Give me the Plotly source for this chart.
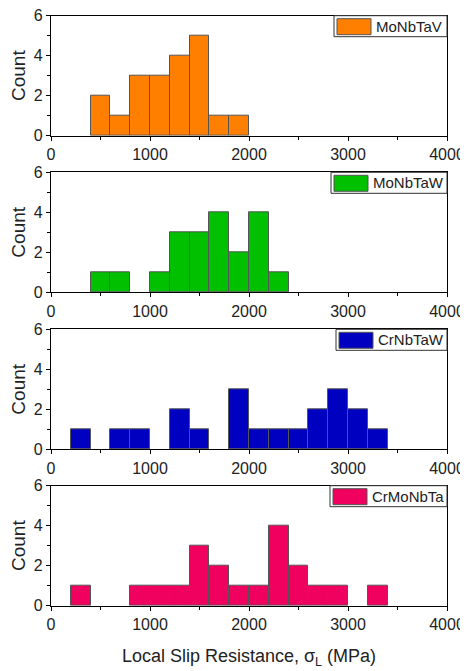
import plotly.graph_objects as go

# Bin left edges (MPa), bin width 200
bin_starts = [200, 400, 600, 800, 1000, 1200, 1400, 1600, 1800, 2000,
              2200, 2400, 2600, 2800, 3000, 3200]
bin_width = 200

names = ["MoNbTaV", "MoNbTaW", "CrNbTaW", "CrMoNbTa"]
counts_MoNbTaV = [0, 2, 1, 3, 3, 4, 5, 1, 1, 0, 0, 0, 0, 0, 0, 0]
counts_MoNbTaW = [0, 1, 1, 0, 1, 3, 3, 4, 2, 4, 1, 0, 0, 0, 0, 0]
counts_CrNbTaW = [1, 0, 1, 1, 0, 2, 1, 0, 3, 1, 1, 1, 2, 3, 2, 1]
counts_CrMoNbTa = [1, 0, 0, 1, 1, 1, 3, 2, 1, 1, 4, 2, 1, 1, 0, 1]
all_counts = [counts_MoNbTaV, counts_MoNbTaW, counts_CrNbTaW, counts_CrMoNbTa]
colors = ["#FF8000", "#00C000", "#0000C0", "#F0005F"]

x_ticks = [0, 1000, 2000, 3000, 4000]
y_ticks = [0, 2, 4, 6]

# page has an 8px body margin: the figure's origin sits at page (8, 8)
OFF = 8
W, H = 468 - OFF, 671 - OFF
mt, mb, ml, mr = 7, 65, 51 - OFF, 21
plot_h = H - mt - mb
panel_tops = [t - OFF for t in [15.7, 172.3, 329.3, 485.7]]
panel_h = 120
legend_left = [l - OFF for l in [334, 331, 336, 330]]

font = "Liberation Sans, Arial, sans-serif"
fig = go.Figure()
layout = {}
shapes = []
annotations = []

for i, (name, counts, col) in enumerate(zip(names, all_counts, colors)):
    n = i + 1
    xa = "x" if n == 1 else f"x{n}"
    ya = "y" if n == 1 else f"y{n}"
    xs = [s + bin_width / 2 for s, c in zip(bin_starts, counts) if c > 0]
    ys = [c for c in counts if c > 0]
    fig.add_trace(go.Bar(x=xs, y=ys, width=bin_width, xaxis=xa, yaxis=ya,
                         marker=dict(color=col, line=dict(color="#555555", width=1)),
                         showlegend=False, name=name))
    top = panel_tops[i]
    bot = top + panel_h
    d0 = (H - mb - bot) / plot_h
    d1 = (H - mb - top) / plot_h
    common = dict(showline=True, linecolor="black", linewidth=1.3, mirror=True,
                  showgrid=False, zeroline=False, ticks="outside", ticklen=4,
                  tickwidth=1.2, tickcolor="black", automargin=False,
                  ticklabeloverflow="allow",
                  tickfont=dict(family=font, size=16, color="#222222"))
    layout[f"xaxis{'' if n == 1 else n}"] = dict(
        common, range=[0, 4000], tickvals=x_ticks, anchor=ya, domain=[0, 1],
        minor=dict(dtick=500, ticklen=3, tickwidth=1.2, tickcolor="black", ticks="outside"),
        **({"title": dict(text="Local Slip Resistance, σ<sub>L</sub> (MPa)",
                          font=dict(family=font, size=18, color="#222222"),
                          standoff=17)} if n == 4 else {}))
    layout[f"yaxis{'' if n == 1 else n}"] = dict(
        common, range=[0, 6], tickvals=y_ticks, anchor=xa, domain=[d0, d1],
        minor=dict(dtick=1, ticklen=3, tickwidth=1.2, tickcolor="black", ticks="outside"),
        title=dict(text="Count", font=dict(family=font, size=19, color="#222222"),
                   standoff=6))
    # legend box drawn in axis domain coordinates
    xd = f"{xa} domain"
    yd = f"{ya} domain"
    pw = W - ml - mr
    bx0 = (legend_left[i] - ml) / pw
    sx0 = (legend_left[i] + 3 - ml) / pw
    sx1 = (legend_left[i] + 37 - ml) / pw
    shapes.append(dict(type="rect", xref=xd, yref=yd, x0=bx0, x1=1, y0=1 - 21 / panel_h, y1=1,
                       line=dict(color="#333333", width=1), fillcolor="white", layer="above"))
    shapes.append(dict(type="rect", xref=xd, yref=yd, x0=sx0, x1=sx1,
                       y0=1 - 19 / panel_h, y1=1 - 3 / panel_h,
                       line=dict(color="#555555", width=1), fillcolor=col, layer="above"))
    annotations.append(dict(text=name, xref=xd, yref=yd, x=(legend_left[i] + 40 - ml) / pw,
                            y=1 - 10.5 / panel_h, xanchor="left", yanchor="middle",
                            showarrow=False, font=dict(family=font, size=15, color="#222222")))

fig.update_layout(**layout)
fig.update_layout(width=W, height=H, margin=dict(l=ml, r=mr, t=mt, b=mb, autoexpand=False),
                  plot_bgcolor="white", paper_bgcolor="white", bargap=0,
                  shapes=shapes, annotations=annotations, showlegend=False)
fig.write_html("out.html")
